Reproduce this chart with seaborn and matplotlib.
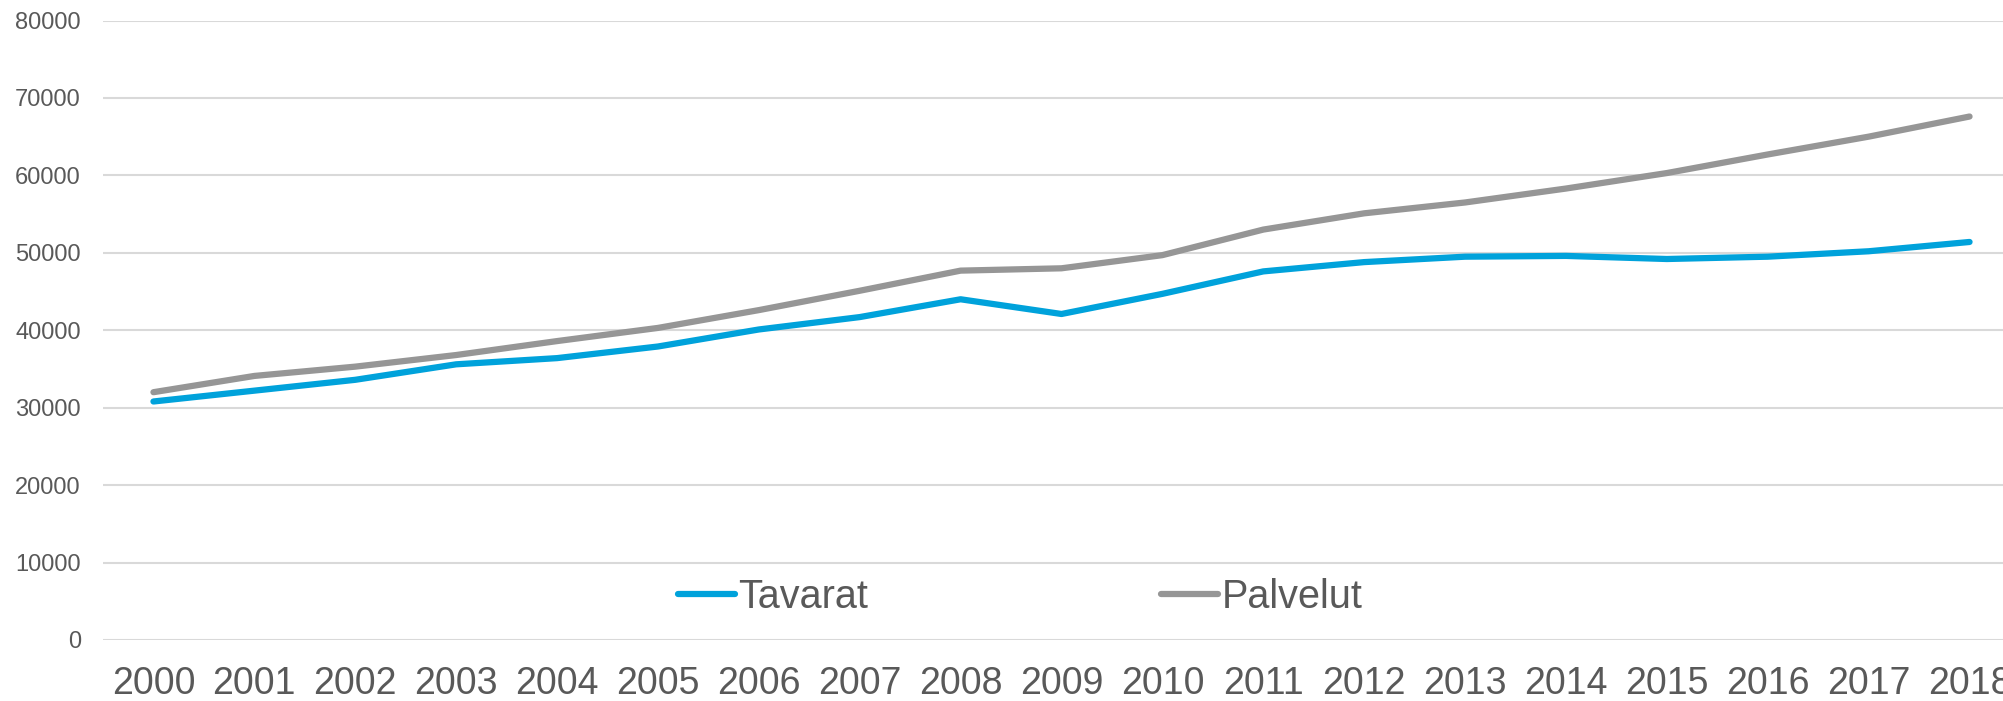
import pandas as pd
import matplotlib
matplotlib.use('Agg')
import matplotlib.pyplot as plt
import seaborn as sns
from matplotlib.lines import Line2D

years = list(range(2000, 2019))
tavarat = [30800, 32200, 33600, 35600, 36400, 37900, 40100, 41700, 44000, 42100,
           44700, 47600, 48800, 49500, 49600, 49200, 49500, 50200, 51400]
palvelut = [32000, 34100, 35300, 36800, 38600, 40300, 42600, 45100, 47700, 48000,
            49700, 53000, 55100, 56500, 58300, 60300, 62700, 65000, 67600]

data = pd.DataFrame({'Vuosi': years * 2,
                     'Arvo': tavarat + palvelut,
                     'Sarja': ['Tavarat'] * len(years) + ['Palvelut'] * len(years)})

sns.set_style('white')
plt.rcParams['font.family'] = ['Liberation Sans', 'DejaVu Sans']
text_color = '#595959'
colors = {'Tavarat': '#00A2DB', 'Palvelut': '#969696'}

fig = plt.figure(figsize=(20.03, 7.01), dpi=100)
W, H = 2003, 701
ax = fig.add_axes([103 / W, 1 - 640 / H, (2020 - 103) / W, (640 - 20.5) / H])

sns.lineplot(data=data, x='Vuosi', y='Arvo', hue='Sarja', palette=colors,
             linewidth=4.5, ax=ax, legend=False, solid_capstyle='round')

ax.set_xlim(1999.5, 2018.5)
ax.set_ylim(0, 80000)
ax.set_xticks(years)
ax.set_xticklabels([str(y) for y in years], fontsize=27, color=text_color)
ax.set_yticks(range(0, 80001, 10000))
ax.set_yticklabels([str(v) for v in range(0, 80001, 10000)], fontsize=17, color=text_color)
ax.tick_params(axis='x', length=0, pad=18.5)
ax.tick_params(axis='y', length=0, pad=16)
ax.yaxis.grid(True, color='#D9D9D9', linewidth=1.5)
ax.set_axisbelow(True)
ax.set_xlabel('')
ax.set_ylabel('')
for s in ax.spines.values():
    s.set_visible(False)

handles = [Line2D([], [], color=colors['Tavarat'], linewidth=4.5, solid_capstyle='round'),
           Line2D([], [], color=colors['Palvelut'], linewidth=4.5, solid_capstyle='round')]
leg = fig.legend(handles, ['Tavarat', 'Palvelut'], ncol=2, loc='center',
                 bbox_to_anchor=(1020 / W, 1 - 597 / H), frameon=False,
                 fontsize=28.5, handlelength=1.45, handletextpad=0.08,
                 columnspacing=7.4)
for t in leg.get_texts():
    t.set_color(text_color)

fig.savefig('out.png', dpi=100)
